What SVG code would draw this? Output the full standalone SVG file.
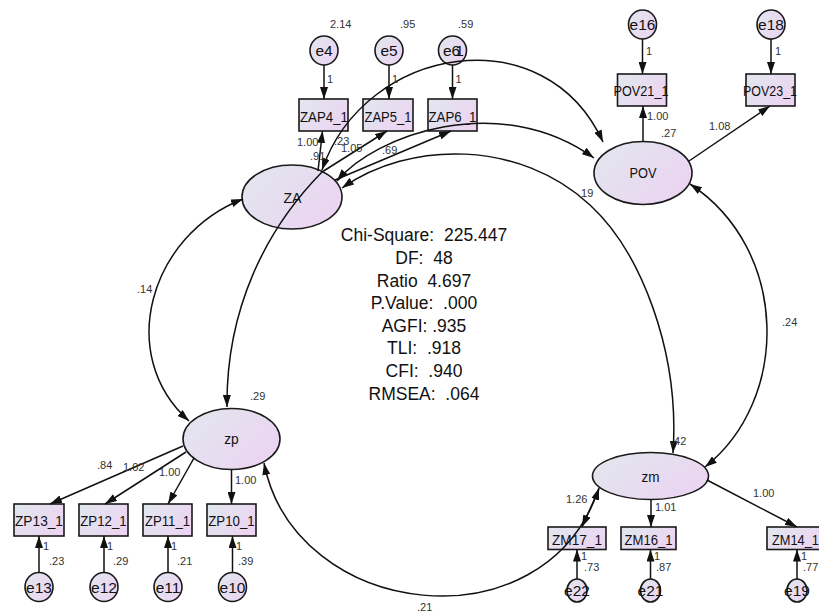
<svg xmlns="http://www.w3.org/2000/svg" width="819" height="613" viewBox="0 0 819 613">
  <defs>
    <linearGradient id="g" x1="0" y1="0.2" x2="1" y2="0.8">
      <stop offset="0" stop-color="#e2e6ee"/>
      <stop offset="1" stop-color="#ecd3f2"/>
    </linearGradient>
    <marker id="ah" viewBox="0 0 12 8" refX="12" refY="4" markerWidth="12" markerHeight="8" markerUnits="userSpaceOnUse" orient="auto-start-reverse">
      <path d="M0,0 L12,4 L0,8 z" fill="#111"/>
    </marker>
    <style>
      .n { fill: url(#g); stroke: #1a1a1a; stroke-width: 1.6; }
      .c { fill: none; stroke: #111; stroke-width: 1.5; }
      .one { marker-end: url(#ah); }
      .two { marker-start: url(#ah); marker-end: url(#ah); }
      .nt { font-family: "Liberation Sans", Arial, sans-serif; font-size: 15.5px; fill: #111; text-anchor: middle; }
      .lbl { font-family: "Liberation Sans", Arial, sans-serif; font-size: 11px; fill: #333; }
      .fit { font-family: "Liberation Sans", Arial, sans-serif; font-size: 17.5px; fill: #111; text-anchor: middle; white-space: pre; }
    </style>
  </defs>

  <rect width="819" height="613" fill="#ffffff"/>

  <!-- latent factors -->
  <g id="ZA"><ellipse class="n" cx="292" cy="197" rx="50" ry="32"/><text class="nt" x="292.5" y="203" textLength="18" lengthAdjust="spacingAndGlyphs">ZA</text></g>
  <g id="POV"><ellipse class="n" cx="643" cy="173" rx="49" ry="31.5"/><text class="nt" x="643" y="178" textLength="27" lengthAdjust="spacingAndGlyphs">POV</text></g>
  <g id="zp"><ellipse class="n" cx="231.5" cy="439" rx="48.5" ry="30.5"/><text class="nt" x="231.5" y="444" textLength="14.5" lengthAdjust="spacingAndGlyphs">zp</text></g>
  <g id="zm"><ellipse class="n" cx="650.5" cy="476" rx="58" ry="23.5"/><text class="nt" x="650.5" y="481.5" textLength="18" lengthAdjust="spacingAndGlyphs">zm</text></g>

  <!-- observed indicators -->
  <g id="ZAP4_1"><rect class="n" x="299" y="99" width="49" height="32"/><text class="nt" x="324" y="121.5" textLength="48" lengthAdjust="spacingAndGlyphs">ZAP4_1</text></g>
  <g id="ZAP5_1"><rect class="n" x="363" y="99" width="50" height="32"/><text class="nt" x="388" y="121.5" textLength="47" lengthAdjust="spacingAndGlyphs">ZAP5_1</text></g>
  <g id="ZAP6_1"><rect class="n" x="428" y="99" width="49" height="32"/><text class="nt" x="452.5" y="121.5" textLength="48" lengthAdjust="spacingAndGlyphs">ZAP6_1</text></g>
  <g id="POV21_1"><rect class="n" x="617.5" y="74" width="49" height="32"/><text class="nt" x="641" y="96" textLength="55" lengthAdjust="spacingAndGlyphs">POV21_1</text></g>
  <g id="POV23_1"><rect class="n" x="746" y="74" width="49" height="32"/><text class="nt" x="770" y="96" textLength="54" lengthAdjust="spacingAndGlyphs">POV23_1</text></g>
  <g id="ZP13_1"><rect class="n" x="14" y="504" width="50" height="32"/><text class="nt" x="39" y="526" textLength="48" lengthAdjust="spacingAndGlyphs">ZP13_1</text></g>
  <g id="ZP12_1"><rect class="n" x="79" y="504" width="49" height="32"/><text class="nt" x="103.5" y="526" textLength="46.5" lengthAdjust="spacingAndGlyphs">ZP12_1</text></g>
  <g id="ZP11_1"><rect class="n" x="143" y="504" width="49" height="32"/><text class="nt" x="167.5" y="526" textLength="45" lengthAdjust="spacingAndGlyphs">ZP11_1</text></g>
  <g id="ZP10_1"><rect class="n" x="207" y="504" width="49" height="32"/><text class="nt" x="231.5" y="526" textLength="46.5" lengthAdjust="spacingAndGlyphs">ZP10_1</text></g>
  <g id="ZM17_1"><rect class="n" x="548" y="527" width="58" height="22.5"/><text class="nt" x="577" y="544.5" textLength="50" lengthAdjust="spacingAndGlyphs">ZM17_1</text></g>
  <g id="ZM16_1"><rect class="n" x="621" y="527" width="55" height="22.5"/><text class="nt" x="648.5" y="544.5" textLength="48" lengthAdjust="spacingAndGlyphs">ZM16_1</text></g>
  <g id="ZM14_1"><rect class="n" x="767" y="527" width="58" height="22.5"/><text class="nt" x="795.5" y="544.5" textLength="47" lengthAdjust="spacingAndGlyphs">ZM14_1</text></g>

  <!-- error terms -->
  <g id="e4"><ellipse class="n" cx="324" cy="50.5" rx="14" ry="14.5"/><text class="nt" x="324" y="56">e4</text></g>
  <g id="e5"><ellipse class="n" cx="389" cy="50.5" rx="14" ry="14.5"/><text class="nt" x="389" y="56">e5</text></g>
  <g id="e6"><ellipse class="n" cx="452.5" cy="50.5" rx="14" ry="14.5"/><text class="nt" x="451.5" y="56">e6</text><text class="nt" x="459.5" y="56">1</text></g>
  <g id="e16"><ellipse class="n" cx="642.5" cy="24.5" rx="14" ry="14.5"/><text class="nt" x="642.5" y="30">e16</text></g>
  <g id="e18"><ellipse class="n" cx="771" cy="24.5" rx="14" ry="14.5"/><text class="nt" x="771" y="30">e18</text></g>
  <g id="e13"><ellipse class="n" cx="39" cy="587" rx="14" ry="14.5"/><text class="nt" x="39" y="592.5">e13</text></g>
  <g id="e12"><ellipse class="n" cx="104" cy="587" rx="14" ry="14.5"/><text class="nt" x="104" y="592.5">e12</text></g>
  <g id="e11"><ellipse class="n" cx="168" cy="587" rx="14" ry="14.5"/><text class="nt" x="168" y="592.5">e11</text></g>
  <g id="e10"><ellipse class="n" cx="232.5" cy="587" rx="14" ry="14.5"/><text class="nt" x="232.5" y="592.5">e10</text></g>
  <g id="e22"><ellipse class="n" cx="577" cy="590.5" rx="10" ry="11.5"/><text class="nt" x="577" y="596">e22</text></g>
  <g id="e21"><ellipse class="n" cx="650.5" cy="590.5" rx="10" ry="11.5"/><text class="nt" x="650.5" y="596">e21</text></g>
  <g id="e19"><ellipse class="n" cx="797" cy="590.5" rx="10" ry="11.5"/><text class="nt" x="797" y="596">e19</text></g>

  <!-- paths and covariances -->
  <g id="connectors">
    <path class="c one" d="M324 65 L324 99"/>
    <path class="c one" d="M389 65 L389 99"/>
    <path class="c one" d="M452.5 65 L452.5 99"/>
    <path class="c one" d="M318 171 L322.5 131"/>
    <path class="c one" d="M322 172 L387 131"/>
    <path class="c one" d="M335 180 L451 131"/>
    <path class="c one" d="M642.5 39 L642.5 74"/>
    <path class="c one" d="M771 39 L771 74"/>
    <path class="c one" d="M643 141.5 L643 106"/>
    <path class="c one" d="M689 161 L770 106"/>
    <path class="c one" d="M183 446 L50 504"/>
    <path class="c one" d="M186 452 L105 504"/>
    <path class="c one" d="M194 458 L168 504"/>
    <path class="c one" d="M231.5 469.5 L231.5 504"/>
    <path class="c one" d="M39 572.5 L39 536"/>
    <path class="c one" d="M104 572.5 L104 536"/>
    <path class="c one" d="M168 572.5 L168 536"/>
    <path class="c one" d="M232.5 572.5 L232.5 536"/>
    <path class="c one" d="M599 489 L582 527"/>
    <path class="c one" d="M651 499.5 L651 527"/>
    <path class="c one" d="M707 480 L797 527"/>
    <path class="c one" d="M577 579 L577 549.5"/>
    <path class="c one" d="M650.5 579 L650.5 549.5"/>
    <path class="c one" d="M797 579 L797 549.5"/>
    <path class="c two" d="M322 170 C365 45 545 15 603 142"/>
    <path class="c one" d="M322 172 C265 230 226 310 227 407"/>
    <path class="c two" d="M337 181 C375 135 500 90 594 158"/>
    <path class="c two" d="M342 188 C410 140 520 140 590 205 C640 251 680 350 673 453"/>
    <path class="c two" d="M243 199 C150 235 115 355 189 421"/>
    <path class="c two" d="M690 184 C790 250 790 400 705 467"/>
    <path class="c two" d="M264 463 C295 620 545 650 599 488"/>
  </g>

  <!-- estimates -->
  <g id="estimates" class="lbl">
    <text x="330" y="28">2.14</text>
    <text x="400" y="28">.95</text>
    <text x="458" y="28">.59</text>
    <text x="327" y="83">1</text>
    <text x="392" y="83">1</text>
    <text x="455.5" y="83">1</text>
    <text x="297" y="146">1.00</text>
    <text x="310" y="160">.91</text>
    <text x="334" y="145">.23</text>
    <text x="341" y="152">1.05</text>
    <text x="382" y="154">.69</text>
    <text x="646" y="55">1</text>
    <text x="775" y="55">1</text>
    <text x="647" y="120">1.00</text>
    <text x="661" y="137">.27</text>
    <text x="709" y="130">1.08</text>
    <text x="578" y="197">.19</text>
    <text x="137" y="293">.14</text>
    <text x="782" y="326">.24</text>
    <text x="250" y="400">.29</text>
    <text x="97" y="469">.84</text>
    <text x="123" y="471">1.02</text>
    <text x="159" y="476">1.00</text>
    <text x="235" y="484">1.00</text>
    <text x="43" y="550">1</text><text x="49" y="565">.23</text>
    <text x="107" y="550">1</text><text x="113" y="565">.29</text>
    <text x="171" y="550">1</text><text x="177" y="565">.21</text>
    <text x="236" y="550">1</text><text x="238" y="565">.39</text>
    <text x="417" y="611">.21</text>
    <text x="671" y="445">.42</text>
    <text x="566" y="503">1.26</text>
    <text x="655" y="511">1.01</text>
    <text x="753" y="497">1.00</text>
    <text x="581" y="560">1</text><text x="584" y="571">.73</text>
    <text x="654" y="560">1</text><text x="656" y="571">.87</text>
    <text x="801" y="560">1</text><text x="803" y="571">.77</text>
  </g>

  <!-- fit statistics -->
  <g id="fit">
    <text class="fit" x="424" y="241">Chi-Square:  225.447</text>
    <text class="fit" x="424" y="263.5">DF:  48</text>
    <text class="fit" x="424" y="286.5">Ratio  4.697</text>
    <text class="fit" x="424" y="309">P.Value:  .000</text>
    <text class="fit" x="424" y="331.5">AGFI: .935</text>
    <text class="fit" x="424" y="354">TLI:  .918</text>
    <text class="fit" x="424" y="377">CFI:  .940</text>
    <text class="fit" x="424" y="399.5">RMSEA:  .064</text>
  </g>
</svg>
